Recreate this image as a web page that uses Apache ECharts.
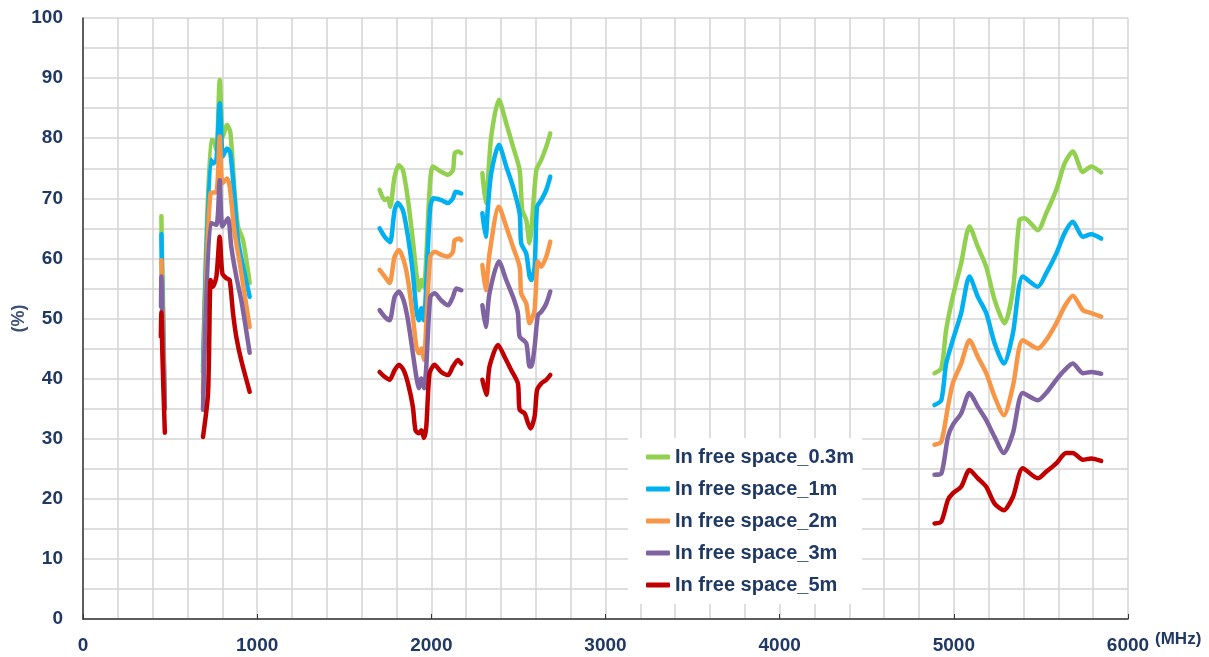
<!DOCTYPE html>
<html>
<head>
    <meta charset="utf-8">
    <script src="https://cdn.jsdelivr.net/npm/echarts@6/dist/echarts.min.js"></script>
    <title>In free space</title>
</head>
<body style="margin:0;background:#fff;">
    <div id="container" style="width:1209px;height:657px;"></div>
    <script>
    // [MHz, %] points, null breaks the line between bands
    var seriesNames = ['In free space_0.3m', 'In free space_1m', 'In free space_2m', 'In free space_3m', 'In free space_5m'];
    var seriesColors = ['#92d050', '#00b0f0', '#f79646', '#8064a2', '#c00000'];

    var free03 = [
        [450, 67], [452, 63], [458, 55], [464, 45], [470, 35], [580, null],
        [689, 42], [733, 79.7], [746, 79.7], [766, 78], [785, 89.7], [804, 80.3], [827, 82.2], [846, 81], [871, 70.8], [890, 65.3], [919, 63], [957, 55.9], [1300, null],
        [1703, 71.4], [1732, 69.7], [1751, 70], [1764, 68.6], [1789, 73.6], [1814, 75.5], [1837, 74.7], [1866, 69.7], [1894, 63], [1914, 57.5], [1929, 54.7], [1943, 56.4], [1958, 55.3], [1971, 60.3], [1990, 71.4], [2009, 75.3], [2057, 74.4], [2096, 73.9], [2124, 74.7], [2134, 77.5], [2153, 77.8], [2172, 77.5], [2230, null],
        [2293, 74.2], [2312, 69.2], [2325, 73], [2344, 80.3], [2388, 86.4], [2430, 82.5], [2469, 78.6], [2507, 74.7], [2522, 68], [2545, 66.4], [2564, 62.5], [2574, 64.7], [2603, 74.7], [2631, 76.4], [2660, 78.6], [2683, 80.8], [3500, null],
        [4889, 40.9], [4928, 41.7], [4956, 48.1], [4994, 53.6], [5042, 59.2], [5090, 65.3], [5138, 61.9], [5186, 58.6], [5234, 53.1], [5291, 49.2], [5339, 54.7], [5377, 66.4], [5406, 66.7], [5482, 64.7], [5530, 67.5], [5588, 71.4], [5636, 75.8], [5683, 77.8], [5741, 74.4], [5789, 75.3], [5846, 74.3]
    ];

    var free1 = [
        [450, 64], [453, 58], [458, 52], [464, 43], [470, 35], [580, null],
        [689, 41], [733, 76.4], [746, 75.8], [766, 76.4], [785, 85.8], [804, 77], [827, 78.3], [846, 77.5], [871, 69.7], [890, 63], [957, 53.6], [1300, null],
        [1703, 65], [1732, 63.6], [1751, 63], [1764, 62.7], [1789, 68], [1808, 69.2], [1837, 68], [1866, 63.6], [1894, 57.5], [1914, 51.4], [1929, 49.7], [1943, 51.7], [1958, 49.7], [1971, 55.9], [1994, 68.6], [2013, 70], [2057, 69.7], [2096, 69.2], [2124, 70], [2140, 71.1], [2172, 70.8], [2230, null],
        [2293, 67.5], [2312, 63.6], [2325, 68.6], [2344, 74.2], [2388, 78.9], [2430, 75.3], [2469, 71.9], [2507, 67.5], [2516, 62.5], [2545, 60.8], [2564, 57], [2574, 56.4], [2593, 58.6], [2607, 68.6], [2631, 69.7], [2660, 71.4], [2683, 73.6], [3500, null],
        [4889, 35.6], [4928, 36.4], [4956, 42.5], [4994, 46.4], [5042, 50.9], [5090, 57], [5138, 53.6], [5186, 50.9], [5234, 45.9], [5287, 42.5], [5339, 47.5], [5396, 57], [5482, 55.3], [5530, 57.5], [5588, 60.8], [5636, 64.2], [5683, 66.1], [5741, 63.6], [5789, 64], [5846, 63.3]
    ];

    var free2 = [
        [450, 59.7], [453, 55], [458, 50], [464, 42], [470, 35], [580, null],
        [689, 37.6], [733, 70.9], [766, 71], [785, 80.3], [800, 72.5], [827, 73.3], [842, 72], [871, 64.2], [900, 59.2], [957, 48.6], [1300, null],
        [1703, 58.1], [1732, 57], [1760, 55.9], [1789, 60.3], [1814, 61.4], [1841, 59.7], [1866, 56.4], [1894, 50.3], [1914, 45.3], [1929, 44.2], [1943, 45], [1958, 43.1], [1971, 49.2], [1994, 60.3], [2019, 61.1], [2057, 60.6], [2096, 60.3], [2124, 61.1], [2134, 63], [2163, 63.3], [2172, 63], [2230, null],
        [2293, 58.9], [2312, 54.7], [2334, 60.8], [2388, 68.6], [2430, 65.3], [2469, 61.9], [2507, 58.6], [2516, 54.2], [2545, 52.5], [2564, 49.2], [2574, 49.7], [2593, 51.4], [2612, 59.5], [2631, 58.6], [2660, 60.3], [2683, 62.8], [3500, null],
        [4889, 29], [4928, 29.5], [4966, 35.3], [4994, 39.2], [5042, 42.5], [5090, 46.4], [5138, 43.6], [5186, 40.9], [5234, 37], [5287, 33.9], [5339, 38.7], [5396, 46.4], [5482, 45], [5530, 46.4], [5588, 49.2], [5636, 52], [5683, 53.8], [5741, 51.4], [5789, 50.9], [5846, 50.3]
    ];

    var free3 = [
        [448, 52], [450, 57], [455, 50], [462, 42], [470, 35], [580, null],
        [689, 34.8], [733, 65.9], [766, 65.6], [785, 73], [800, 65.3], [832, 66.7], [851, 62], [880, 57], [909, 53], [957, 44.3], [1300, null],
        [1703, 51.4], [1732, 50.3], [1760, 49.7], [1789, 53.6], [1814, 54.5], [1841, 53], [1866, 49.7], [1894, 44.2], [1914, 40.3], [1929, 38.4], [1943, 40], [1958, 38.4], [1971, 42], [1994, 53.6], [2019, 54.2], [2057, 53], [2096, 52.2], [2124, 53.6], [2143, 55], [2172, 54.7], [2230, null],
        [2293, 52.2], [2312, 48.6], [2334, 54.2], [2388, 59.5], [2430, 56.4], [2469, 53.6], [2497, 50.9], [2507, 47], [2545, 45.9], [2564, 42], [2574, 42], [2593, 45.3], [2612, 50.6], [2631, 51.1], [2660, 52.5], [2683, 54.5], [3500, null],
        [4889, 24], [4928, 24.2], [4966, 30.3], [4994, 32.3], [5042, 34.2], [5090, 37.6], [5138, 35.3], [5186, 33.1], [5234, 30.3], [5287, 27.6], [5339, 30.9], [5396, 37.6], [5482, 36.4], [5530, 37.6], [5588, 39.8], [5636, 41.4], [5683, 42.5], [5741, 40.9], [5789, 41.1], [5846, 40.8]
    ];

    var free5 = [
        [447, 47], [450, 51], [455, 45], [462, 38], [470, 31], [580, null],
        [689, 30.3], [718, 37.6], [733, 56.4], [746, 55.3], [766, 57], [785, 63.6], [800, 57.5], [823, 56.7], [842, 56.4], [861, 51], [880, 47], [909, 43], [957, 37.8], [1300, null],
        [1703, 41.1], [1732, 40.3], [1760, 39.8], [1789, 41.4], [1814, 42.3], [1841, 41.4], [1866, 39.2], [1894, 35.3], [1909, 31.4], [1929, 30.9], [1943, 31.4], [1958, 30.1], [1971, 32], [1990, 40.9], [2019, 42.3], [2057, 41.1], [2096, 40.6], [2124, 42], [2153, 43.1], [2172, 42.5], [2230, null],
        [2293, 39.8], [2316, 37.3], [2334, 42], [2383, 45.6], [2421, 43.6], [2459, 41.4], [2497, 39.2], [2507, 34.8], [2536, 34.2], [2555, 32.6], [2570, 31.7], [2593, 33.7], [2607, 38.1], [2631, 39.2], [2660, 39.8], [2683, 40.6], [3500, null],
        [4889, 15.9], [4928, 16.2], [4966, 19.8], [4994, 20.9], [5042, 22], [5090, 24.8], [5138, 23.4], [5186, 22], [5234, 19.2], [5287, 18.1], [5339, 20.3], [5396, 25.1], [5482, 23.4], [5530, 24.5], [5588, 25.9], [5645, 27.6], [5683, 27.6], [5741, 26.5], [5789, 26.7], [5846, 26.3]
    ];

    var seriesData = [free03, free1, free2, free3, free5];

    var fontFam = "'Liberation Sans', Arial, sans-serif";
    var textColor = '#1f3864';
    var gridColor = '#d4d4d4';

    var myChart = echarts.init(document.getElementById('container'));

    var option = {
        animation: false,
        backgroundColor: '#fff',
        grid: { left: 83, right: 81, top: 18, bottom: 38, outerBoundsMode: 'none', containLabel: false },
        legend: {
            orient: 'vertical',
            left: 628,
            top: 438,
            padding: [8, 8, 8, 18],
            backgroundColor: '#fff',
            itemGap: 10,
            itemWidth: 24,
            itemHeight: 5,
            icon: 'roundRect',
            textStyle: {
                color: textColor,
                fontFamily: fontFam,
                fontWeight: 'bold',
                fontSize: 20,
                lineHeight: 22
            },
            data: seriesNames
        },
        xAxis: {
            type: 'value',
            min: 0,
            max: 6000,
            interval: 1000,
            name: '(MHz)',
            nameLocation: 'end',
            nameGap: 24,
            nameTextStyle: {
                color: textColor,
                fontFamily: fontFam,
                fontWeight: 'bold',
                fontSize: 17,
                verticalAlign: 'top',
                padding: [12, 0, 0, 0]
            },
            axisLine: { show: true, lineStyle: { color: '#333', width: 1.5 } },
            axisTick: { show: true, inside: true, length: 5, lineStyle: { color: '#333' } },
            axisLabel: {
                color: textColor,
                fontFamily: fontFam,
                fontWeight: 'bold',
                fontSize: 19,
                margin: 17,
                formatter: function (v) { return String(v); }
            },
            splitLine: { show: true, lineStyle: { color: gridColor, width: 1.5 } },
            minorTick: { show: false, splitNumber: 5 },
            minorSplitLine: { show: true, lineStyle: { color: gridColor, width: 1.5 } }
        },
        yAxis: {
            type: 'value',
            min: 0,
            max: 100,
            interval: 10,
            name: '(%)',
            nameLocation: 'middle',
            nameGap: 55,
            nameRotate: 90,
            nameMoveOverlap: false,
            nameTextStyle: {
                color: '#3b5275',
                fontFamily: fontFam,
                fontWeight: 'bold',
                fontSize: 18
            },
            axisLine: { show: true, lineStyle: { color: '#333', width: 1.5 } },
            axisTick: { show: false },
            axisLabel: {
                color: textColor,
                fontFamily: fontFam,
                fontWeight: 'bold',
                fontSize: 19,
                margin: 20
            },
            splitLine: { show: true, lineStyle: { color: gridColor, width: 1.5 } },
            minorTick: { show: false, splitNumber: 2 },
            minorSplitLine: { show: true, lineStyle: { color: gridColor, width: 1.5 } }
        },
        series: seriesNames.map(function (name, i) {
            return {
                name: name,
                type: 'line',
                data: seriesData[i],
                showSymbol: false,
                symbol: 'none',
                smooth: 0.25,
                connectNulls: false,
                color: seriesColors[i],
                lineStyle: { width: 4.5, color: seriesColors[i], cap: 'round', join: 'round' }
            };
        })
    };

    myChart.setOption(option);
    </script>
</body>
</html>
